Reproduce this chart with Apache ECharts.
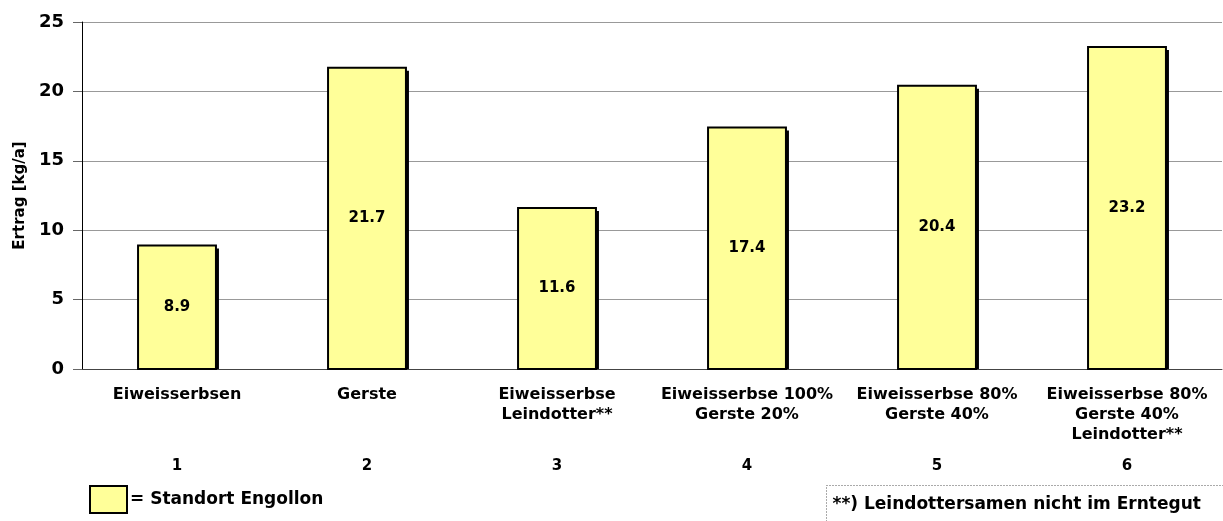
<!DOCTYPE html>
<html>
<head>
<meta charset="utf-8">
<script src="https://cdn.jsdelivr.net/npm/echarts@6/dist/echarts.min.js"></script>
<style>
  html, body { margin: 0; padding: 0; background: #fff; }
  #chart { width: 1223px; height: 521px; }
</style>
</head>
<body>
<div id="chart"></div>
<script>
// categories and values
const categories = [
  'Eiweisserbsen',
  'Gerste',
  'Eiweisserbse\nLeindotter**',
  'Eiweisserbse 100%\nGerste 20%',
  'Eiweisserbse 80%\nGerste 40%',
  'Eiweisserbse 80%\nGerste 40%\nLeindotter**'
];
const numbers = ['1', '2', '3', '4', '5', '6'];
const ertrag = [8.9, 21.7, 11.6, 17.4, 20.4, 23.2];
const yTicks = [0, 5, 10, 15, 20, 25];

// the reference text is wide, DejaVu Sans Bold gets close to it
const font = '"DejaVu Sans", sans-serif';

var chartDom = document.getElementById('chart');
var myChart = echarts.init(chartDom);
var option;

// bar with a hard black shadow down/right, like the old Excel look
function renderBar(params, api) {
  var top = api.coord([api.value(0), api.value(1)]);
  var base = api.coord([api.value(0), 0]);
  var w = api.size([1, 0])[0] * 0.41;
  var x0 = top[0] - w / 2;
  var h = base[1] - top[1];
  return {
    type: 'group',
    children: [
      {
        type: 'rect',
        shape: { x: x0 + 3, y: top[1] + 3, width: w, height: h - 3 },
        style: { fill: '#000' }
      },
      {
        type: 'rect',
        shape: { x: x0, y: top[1], width: w, height: h },
        style: { fill: '#ffff99', stroke: '#000', lineWidth: 2 }
      },
      {
        type: 'text',
        x: top[0],
        y: top[1] + h / 2,
        style: {
          text: api.value(1).toFixed(1),
          fill: '#000',
          font: 'bold 15px ' + font,
          align: 'center',
          verticalAlign: 'middle'
        }
      }
    ]
  };
}

option = {
  animation: false,
  textStyle: { fontFamily: font },
  grid: { left: 82, right: 1, top: 22, bottom: 152 },
  legend: {
    left: 84,
    top: 480,
    icon: 'rect',
    itemWidth: 37,
    itemHeight: 27,
    formatter: '= {name}',
    textStyle: { fontFamily: font, fontWeight: 'bold', fontSize: 17, color: '#000', padding: [0, 0, 0, -2] },
    itemStyle: { color: '#ffff99', borderColor: '#000', borderWidth: 2 }
  },
  xAxis: [
    {
      type: 'category',
      data: categories,
      axisLine: { lineStyle: { color: '#444', width: 1 } },
      axisTick: { length: 109, lineStyle: { color: '#000', width: 1 } },
      axisLabel: {
        interval: 0,
        margin: 16,
        color: '#000',
        fontFamily: font,
        fontWeight: 'bold',
        fontSize: 16,
        lineHeight: 20,
        verticalAlign: 'top'
      }
    },
    {
      type: 'category',
      data: numbers,
      position: 'bottom',
      offset: 88,
      axisLine: { show: false },
      axisTick: { show: false },
      axisLabel: {
        interval: 0,
        margin: 2,
        color: '#000',
        fontFamily: font,
        fontWeight: 'bold',
        fontSize: 15
      }
    }
  ],
  yAxis: {
    type: 'value',
    min: yTicks[0],
    max: yTicks[yTicks.length - 1],
    interval: 5,
    name: 'Ertrag [kg/a]',
    nameLocation: 'middle',
    nameGap: 49,
    nameTextStyle: { fontFamily: font, fontWeight: 'bold', fontSize: 15, color: '#000' },
    axisLine: { show: true, lineStyle: { color: '#000', width: 1 } },
    axisTick: { show: true, length: 9, lineStyle: { color: '#666' } },
    axisLabel: {
      margin: 18,
      color: '#000',
      fontFamily: font,
      fontWeight: 'bold',
      fontSize: 18
    },
    splitLine: { lineStyle: { color: '#999', width: 1 } }
  },
  series: [
    {
      name: 'Standort Engollon',
      type: 'custom',
      renderItem: renderBar,
      encode: { x: 0, y: 1 },
      itemStyle: { color: '#ffff99', borderColor: '#000', borderWidth: 2 },
      data: ertrag.map(function (v, i) { return [i, v]; })
    }
  ],
  graphic: [
    {
      type: 'group',
      left: 826,
      top: 485,
      children: [
        {
          type: 'rect',
          shape: { x: 0, y: 0, width: 397, height: 38 },
          style: { fill: '#fff', stroke: '#555', lineWidth: 1, lineDash: [1, 2] }
        },
        {
          type: 'text',
          x: 6,
          y: 19,
          style: {
            text: '**) Leindottersamen nicht im Erntegut',
            fill: '#000',
            font: 'bold 17px ' + font,
            verticalAlign: 'middle'
          }
        }
      ]
    }
  ]
};

option && myChart.setOption(option);
</script>
</body>
</html>
